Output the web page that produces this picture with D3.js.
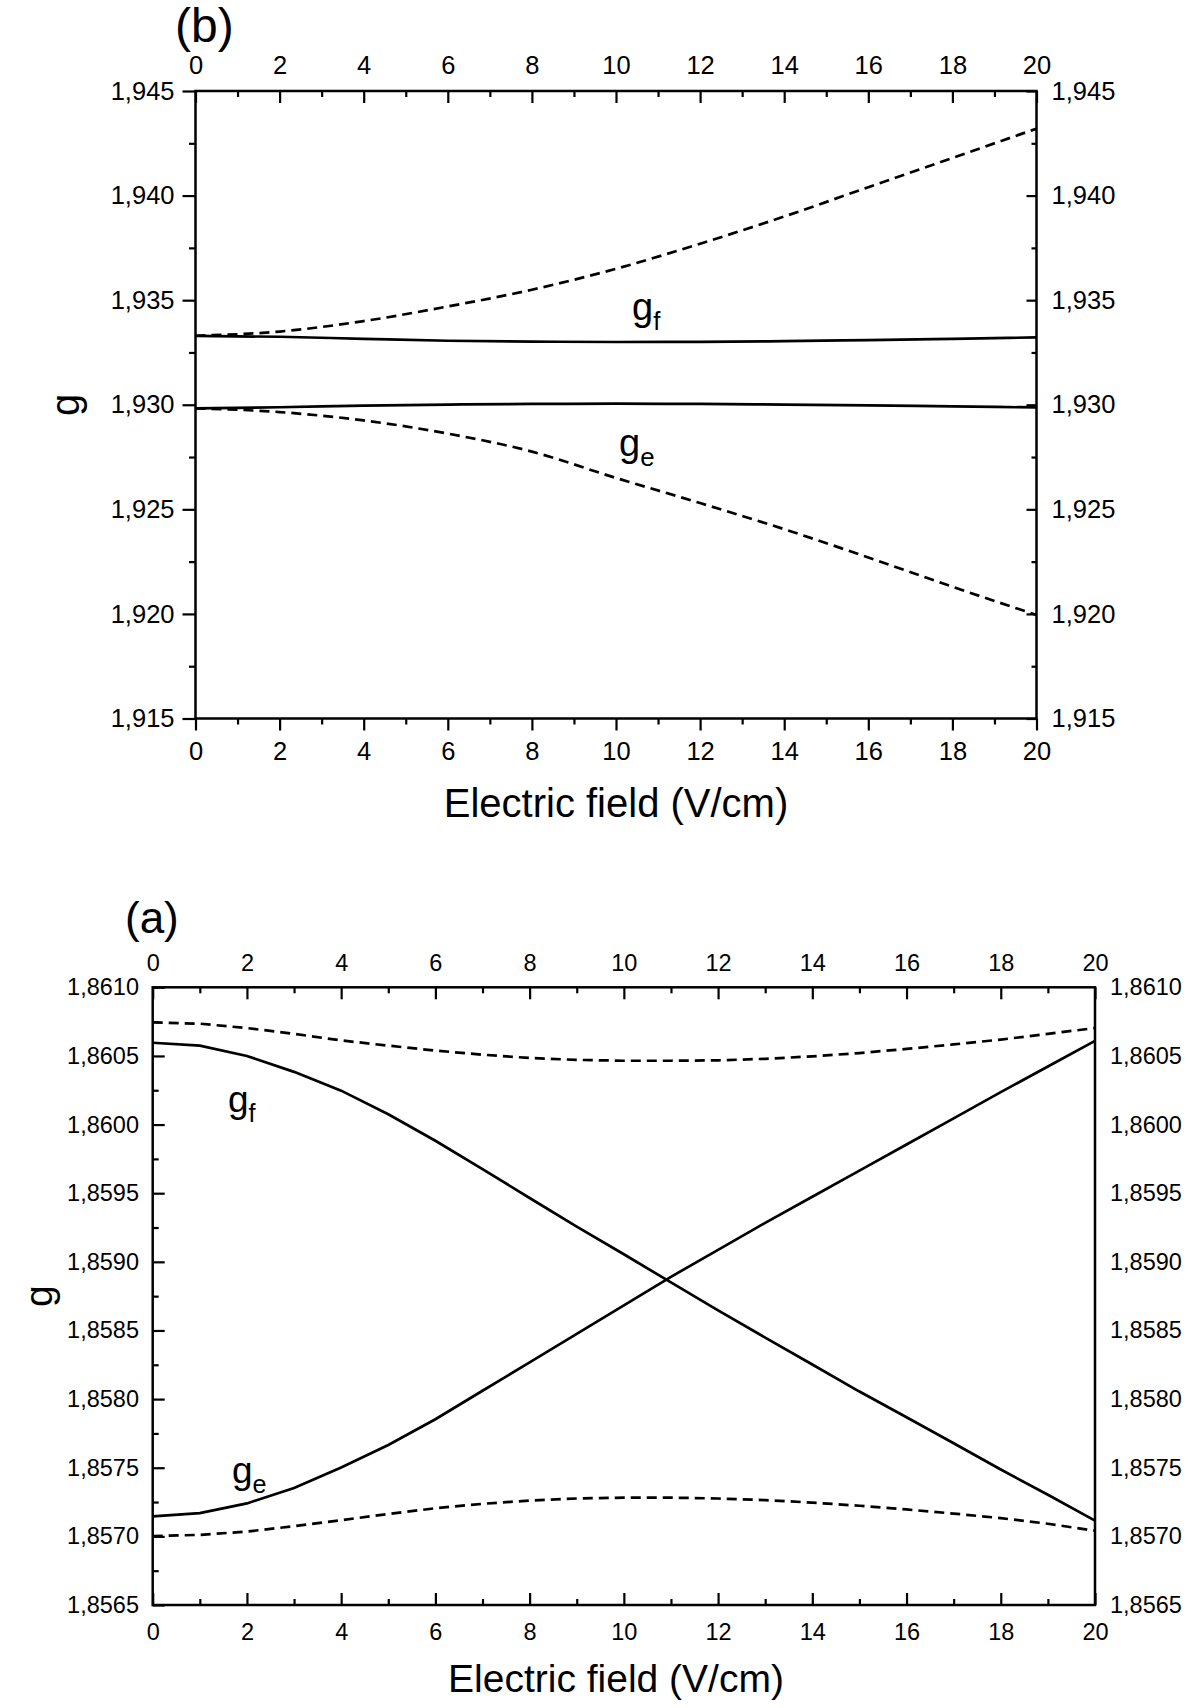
<!DOCTYPE html>
<html>
<head>
<meta charset="utf-8">
<script src="https://cdn.jsdelivr.net/npm/d3@7"></script>
<style>
  body { margin: 0; background: #fff; }
  svg { display: block; font-family: "Liberation Sans", Arial, Helvetica, sans-serif; }
</style>
</head>
<body>
<div id="chart"></div>
<script>
// values

// panel (b)
const fieldB = [0, 2, 4, 6, 8, 10, 12, 14, 16, 18, 20]
const bDashUp = [1.93330, 1.93350, 1.93400, 1.93470, 1.93550, 1.93650, 1.93770, 1.93900, 1.94040, 1.94180, 1.94320]
const bGf = [1.93329, 1.93325, 1.93315, 1.93306, 1.93302, 1.93300, 1.93301, 1.93304, 1.93309, 1.93315, 1.93322]
const bGe = [1.92983, 1.92988, 1.92996, 1.93001, 1.93004, 1.93005, 1.93004, 1.93001, 1.92997, 1.92992, 1.92987]
const bDashDown = [1.92983, 1.92965, 1.92925, 1.92862, 1.92776, 1.92650, 1.92530, 1.92405, 1.92270, 1.92130, 1.91995]
const bYTicks = [1.915, 1.920, 1.925, 1.930, 1.935, 1.940, 1.945]
const bYMinor = [1.9175, 1.9225, 1.9275, 1.9325, 1.9375, 1.9425]

// panel (a)
const fieldA = [0, 1, 2, 3, 4, 5, 6, 7, 8, 9, 10, 11, 12, 13, 14, 15, 16, 17, 18, 19, 20]
const aDashUp = [1.860744, 1.860735, 1.860703, 1.860661, 1.860613, 1.860575, 1.860539, 1.860509, 1.860485, 1.860471, 1.860465,
  1.860465, 1.860468, 1.860479, 1.860497, 1.860521, 1.860551, 1.860584, 1.860619, 1.860661, 1.860703]
const aGf = [1.860596, 1.860575, 1.860500, 1.860384, 1.860247, 1.860075, 1.859882, 1.859676, 1.859465, 1.859257, 1.859055,
  1.858850, 1.858647, 1.858448, 1.858252, 1.858055, 1.857868, 1.857678, 1.857487, 1.857303, 1.857115]
const aGe = [1.857145, 1.857169, 1.857240, 1.857353, 1.857502, 1.857666, 1.857853, 1.858061, 1.858267, 1.858475, 1.858683,
  1.858891, 1.859087, 1.859284, 1.859474, 1.859664, 1.859855, 1.860045, 1.860236, 1.860423, 1.860610]
const aDashDown = [1.857002, 1.857011, 1.857035, 1.857074, 1.857118, 1.857163, 1.857205, 1.857237, 1.857261, 1.857276, 1.857282,
  1.857282, 1.857276, 1.857264, 1.857246, 1.857223, 1.857196, 1.857166, 1.857133, 1.857092, 1.857041]
const aYTicks = [1.8565, 1.8570, 1.8575, 1.8580, 1.8585, 1.8590, 1.8595, 1.8600, 1.8605, 1.8610]
const aYMinor = [1.85675, 1.85725, 1.85775, 1.85825, 1.85875, 1.85925, 1.85975, 1.86025, 1.86075]

// shared x ticks
const xTicks = [0, 2, 4, 6, 8, 10, 12, 14, 16, 18, 20]
const xMinor = [1, 3, 5, 7, 9, 11, 13, 15, 17, 19]

const W = 1191, H = 1708

const svg = d3.select('#chart').append('svg')
  .attr('width', W)
  .attr('height', H)

// decimal comma like the original
const locale = d3.formatLocale({decimal: ",", thousands: "", grouping: [3], currency: ["", ""]})

function styleAxis(sel, fs) {
  sel.attr('font-family', null).attr('font-size', fs)
  sel.select('.domain').remove()
  sel.selectAll('line').attr('stroke', '#000').attr('stroke-width', 2.2)
  sel.selectAll('text').attr('fill', '#000')
}

function drawPanel(p) {
  const x = d3.scaleLinear().domain([0, 20]).range([p.left, p.right])
  const y = d3.scaleLinear().domain(p.yDomain).range([p.bottom, p.top])
  const g = svg.append('g')
  const yFmt = locale.format(p.yFormat)

  // bottom
  g.append('g').attr('transform', `translate(0,${p.bottom})`)
    .call(d3.axisBottom(x).tickValues(xTicks).tickSize(p.bottomTick).tickPadding(p.bottomPad).tickFormat(d3.format('d')))
    .call(styleAxis, p.tickFont)
  g.append('g').attr('transform', `translate(0,${p.bottom})`)
    .call(d3.axisBottom(x).tickValues(xMinor).tickSize(p.bottomTick / 2).tickFormat(''))
    .call(styleAxis, p.tickFont)

  // top (ticks point into the frame)
  g.append('g').attr('transform', `translate(0,${p.top})`)
    .call(d3.axisTop(x).tickValues(xTicks).tickSize(-12).tickPadding(p.topPad).tickFormat(d3.format('d')))
    .call(styleAxis, p.tickFont)
  g.append('g').attr('transform', `translate(0,${p.top})`)
    .call(d3.axisTop(x).tickValues(xMinor).tickSize(-6).tickFormat(''))
    .call(styleAxis, p.tickFont)

  // left
  g.append('g').attr('transform', `translate(${p.left},0)`)
    .call(d3.axisLeft(y).tickValues(p.yTicks).tickSize(p.leftTick).tickPadding(p.leftPad).tickFormat(yFmt))
    .call(styleAxis, p.tickFont)
  g.append('g').attr('transform', `translate(${p.left},0)`)
    .call(d3.axisLeft(y).tickValues(p.yMinor).tickSize(p.leftTick / 2).tickFormat(''))
    .call(styleAxis, p.tickFont)

  // right
  g.append('g').attr('transform', `translate(${p.right},0)`)
    .call(d3.axisRight(y).tickValues(p.yTicks).tickSize(p.rightTick).tickPadding(p.rightPad).tickFormat(yFmt))
    .call(styleAxis, p.tickFont)
  if (p.rightTick !== 0) {
    g.append('g').attr('transform', `translate(${p.right},0)`)
      .call(d3.axisRight(y).tickValues(p.yMinor).tickSize(p.rightTick / 2).tickFormat(''))
      .call(styleAxis, p.tickFont)
  }

  // frame
  g.append('rect')
    .attr('x', p.left).attr('y', p.top)
    .attr('width', p.right - p.left).attr('height', p.bottom - p.top)
    .attr('fill', 'none').attr('stroke', '#000').attr('stroke-width', 2.5)

  const line = d3.line()
    .x(d => x(d[0]))
    .y(d => y(d[1]))
    .curve(p.curve)

  p.series.forEach(s => {
    g.append('path')
      .datum(d3.zip(p.field, s.values))
      .attr('d', line)
      .attr('fill', 'none')
      .attr('stroke', '#000')
      .attr('stroke-width', 2.7)
      .attr('stroke-dasharray', s.dashed ? '10,6' : null)
  })

  // curve labels
  p.labels.forEach(l => {
    const t = g.append('text')
      .attr('x', l.x).attr('y', l.y)
      .attr('font-size', p.labelFont)
    t.append('tspan').text('g')
    t.append('tspan').attr('dy', 10).attr('font-size', p.labelFont * 0.68).text(l.sub)
  })

  // axis titles
  g.append('text')
    .attr('x', 616).attr('y', p.titleY)
    .attr('text-anchor', 'middle')
    .attr('font-size', p.titleFont)
    .text('Electric field (V/cm)')

  g.append('text')
    .attr('transform', `translate(${p.gX},${(p.top + p.bottom) / 2}) rotate(-90)`)
    .attr('text-anchor', 'middle')
    .attr('font-size', p.titleFont)
    .text('g')

  g.append('text')
    .attr('x', p.tagX).attr('y', p.tagY)
    .attr('font-size', p.tagFont)
    .text(p.tag)
}

// upper chart (b)
drawPanel({
  left: 195.5, right: 1036.5, top: 91, bottom: 718.5,
  yDomain: [1.915, 1.945], yTicks: bYTicks, yMinor: bYMinor, yFormat: '.3f',
  bottomTick: 12, bottomPad: 11, topPad: 17,
  leftTick: 13, leftPad: 8, rightTick: -10, rightPad: 15,
  tickFont: 25.5, titleFont: 40, titleY: 817, labelFont: 38,
  gX: 79, tag: '(b)', tagX: 175, tagY: 42, tagFont: 48,
  field: fieldB, curve: d3.curveMonotoneX,
  series: [
    {values: bDashUp, dashed: true},
    {values: bGf, dashed: false},
    {values: bGe, dashed: false},
    {values: bDashDown, dashed: true}
  ],
  labels: [
    {x: 632, y: 320, sub: 'f'},
    {x: 619, y: 456, sub: 'e'}
  ]
})

// lower chart (a)
drawPanel({
  left: 152.7, right: 1095, top: 987.3, bottom: 1605,
  yDomain: [1.8565, 1.8610], yTicks: aYTicks, yMinor: aYMinor, yFormat: '.4f',
  bottomTick: -12, bottomPad: 18, topPad: 16.6,
  leftTick: -12, leftPad: 13.7, rightTick: 0, rightPad: 15,
  tickFont: 23.5, titleFont: 39, titleY: 1692, labelFont: 37,
  gX: 52, tag: '(a)', tagX: 125, tagY: 933, tagFont: 44,
  field: fieldA, curve: d3.curveLinear,
  series: [
    {values: aDashUp, dashed: true},
    {values: aGf, dashed: false},
    {values: aGe, dashed: false},
    {values: aDashDown, dashed: true}
  ],
  labels: [
    {x: 228, y: 1112, sub: 'f'},
    {x: 232, y: 1483, sub: 'e'}
  ]
})
</script>
</body>
</html>
